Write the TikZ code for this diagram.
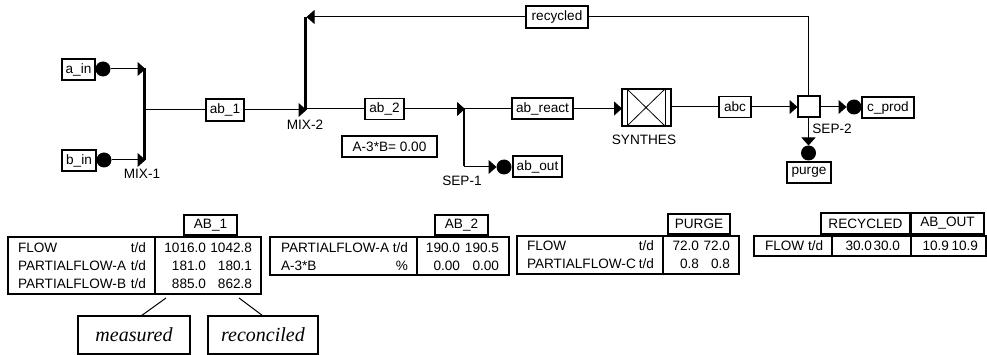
\documentclass[tikz,border=0pt]{standalone}
\usepackage{fontspec}
\setmainfont{Liberation Sans}
\newfontfamily\capserif{Liberation Serif}
\usetikzlibrary{arrows.meta,calc}
\tikzset{
  every node/.style={inner sep=0pt,outer sep=0pt,font=\fontsize{13.6}{15}\selectfont},
  tag/.style={draw,line width=1.1pt,fill=white,align=center},
  cell/.style={draw,line width=1.1pt,fill=white},
  lbl/.style={anchor=center},
  txtl/.style={anchor=base west},
  txtr/.style={anchor=base east},
  dotn/.style={circle,fill=black,minimum size=15pt},
  bar/.style={fill=black,minimum width=3pt},
  flow/.style={line width=1pt,-{Triangle[length=8pt,width=14pt]}},
  plain/.style={line width=1pt},
  note/.style={draw,line width=1.1pt,font=\capserif\itshape\fontsize{20}{22}\selectfont},
}
\begin{document}
\begin{tikzpicture}[x=1pt,y=-1pt]
\useasboundingbox (0,0) rectangle (987,355);
% stream tags
\node[tag,minimum width=33pt,minimum height=21pt] (ain) at (78.5,69.5) {a\_in};
\node[tag,minimum width=34pt,minimum height=21pt] (bin) at (79,160.5) {b\_in};
\node[tag,minimum width=38pt,minimum height=22pt] (ab1) at (225,110) {ab\_1};
\node[tag,minimum width=39pt,minimum height=21pt] (ab2) at (384.5,109) {ab\_2};
\node[tag,minimum width=61pt,minimum height=21pt] (abreact) at (542.5,108.5) {ab\_react};
\node[tag,minimum width=49pt,minimum height=21pt] (about) at (537.5,166.5) {ab\_out};
\node[tag,minimum width=32pt,minimum height=21pt] (abc) at (735,107) {abc};
\node[tag,minimum width=52pt,minimum height=21pt] (cprod) at (888,107.5) {c\_prod};
\node[tag,minimum width=44pt,minimum height=21pt] (purge) at (809,172.5) {purge};
\node[tag,minimum width=62pt,minimum height=22pt] (recycled) at (557,17) {recycled};
\node[tag,minimum width=95pt,minimum height=21pt] (cons) at (389.5,146.5) {A-3*B= 0.00};
% end dots
\node[dotn] (adot) at (103,69) {};
\node[dotn] (bdot) at (104,160) {};
\node[dotn] (abdot) at (504,167) {};
\node[dotn] (cdot) at (854,107) {};
\node[dotn] (pdot) at (808.5,153) {};
% mixers and splitters
\node[bar,minimum height=92pt] (mix1) at (144,114) {};
\node[bar,minimum height=93pt] (mix2) at (305,64) {};
\node[bar,minimum width=2pt,minimum height=58pt] (sep1) at (464,137.5) {};
% units
\node[draw,line width=2pt,minimum width=49pt,minimum height=37pt] (syn) at (646.5,107.5) {};
\node[draw,line width=2pt,fill=white,minimum width=22pt,minimum height=21pt] (sep2) at (808.5,107) {};
\draw[line width=.8pt] (627,89) -- (627,126) (665,89) -- (665,126);
\draw[line width=.8pt] (627,89) -- (665,126) (627,126) -- (665,89);
% unit labels
\node[lbl] (lmix1) at (142,174) {MIX-1};
\node[lbl] (lmix2) at (305,125) {MIX-2};
\node[lbl] (lsep1) at (462,181) {SEP-1};
\node[lbl] (lsyn) at (644,140) {SYNTHES};
\node[lbl] (lsep2) at (832,129) {SEP-2};
% connectors
\draw[flow] (adot) -- (adot -| mix1.east);
\draw[flow] (bdot) -- (bdot -| mix1.east);
\draw[plain] (ab1 -| mix1.east) -- (ab1.west);
\draw[flow] (ab1.east) -- (ab1 -| mix2.east);
\draw[plain] (ab2 -| mix2.east) -- (ab2.west);
\draw[flow] (ab2.east) -- (ab2 -| sep1.east);
\draw[line width=1.5pt] (abreact -| sep1.east) -- (abreact.west);
\draw[flow] (abreact.east) -- (abreact -| syn.west);
\draw[plain] (abc -| syn.east) -- (abc.west);
\draw[flow] (abc.east) -- (abc -| sep2.west);
\draw[flow] (sep2.east) -- (cdot.west);
\draw[flow] (sep2.south) -- (pdot.north);
\draw[flow] (sep1.south |- abdot) -- (abdot.west);
\draw[plain] (sep2.north) |- (recycled.east);
\draw[flow] (recycled.west) -- (recycled -| mix2.east);
% AB_1 table
\node[tag,minimum width=53pt,minimum height=20pt] (tag1) at (210.5,225) {AB\_1};
\node[cell,minimum width=147pt,minimum height=57pt] (t1l) at (81.5,265.5) {};
\node[cell,minimum width=106pt,minimum height=57pt] (t1r) at (208,265.5) {};
\node[txtl] (a1) at (18,252.5) {FLOW};
\node[txtr] (a2) at (146,252.5) {t/d};
\node[txtl] (a3) at (18,270) {PARTIALFLOW-A};
\node[txtr] (a4) at (146,270) {t/d};
\node[txtl] (a5) at (18,288) {PARTIALFLOW-B};
\node[txtr] (a6) at (146,288) {t/d};
\node[txtr] (a7) at (206,252.5) {1016.0};
\node[txtr] (a8) at (252,252.5) {1042.8};
\node[txtr] (a9) at (206,270) {181.0};
\node[txtr] (a10) at (252,270) {180.1};
\node[txtr] (a11) at (206,288) {885.0};
\node[txtr] (a12) at (252,288) {862.8};
% AB_2 table
\node[tag,minimum width=53pt,minimum height=20pt] (tag2) at (461.5,225) {AB\_2};
\node[cell,minimum width=147pt,minimum height=38pt] (t2l) at (343.5,256) {};
\node[cell,minimum width=92pt,minimum height=38pt] (t2r) at (463,256) {};
\node[txtl] (b1) at (281,252) {PARTIALFLOW-A};
\node[txtr] (b2) at (408,252) {t/d};
\node[txtl] (b3) at (281,270) {A-3*B};
\node[txtr] (b4) at (408,270) {\%};
\node[txtr] (b5) at (460,252) {190.0};
\node[txtr] (b6) at (499,252) {190.5};
\node[txtr] (b7) at (460,270) {0.00};
\node[txtr] (b8) at (499,270) {0.00};
% PURGE table
\node[tag,minimum width=62pt,minimum height=20pt] (tag3) at (699,224) {PURGE};
\node[cell,minimum width=146pt,minimum height=38pt] (t3l) at (590,255) {};
\node[cell,minimum width=76pt,minimum height=38pt] (t3r) at (701,255) {};
\node[txtl] (c1) at (527,251) {FLOW};
\node[txtr] (c2) at (654,251) {t/d};
\node[txtl] (c3) at (527,269) {PARTIALFLOW-C};
\node[txtr] (c4) at (654,269) {t/d};
\node[txtr] (c5) at (699,251) {72.0};
\node[txtr] (c6) at (730,251) {72.0};
\node[txtr] (c7) at (699,269) {0.8};
\node[txtr] (c8) at (730,269) {0.8};
% RECYCLED / AB_OUT table
\node[tag,minimum width=89pt,minimum height=21pt] (tag4) at (865.5,223.5) {RECYCLED};
\node[tag,minimum width=73pt,minimum height=21pt] (tag5) at (947.5,223.5) {AB\_OUT};
\node[cell,minimum width=78pt,minimum height=20pt] (t4l) at (793,246) {};
\node[cell,minimum width=79pt,minimum height=20pt] (t4m) at (871.5,246) {};
\node[cell,minimum width=75pt,minimum height=20pt] (t4r) at (948.5,246) {};
\node[txtl] (d1) at (765,251) {FLOW t/d};
\node[txtr] (d2) at (872,251) {30.0};
\node[txtr] (d3) at (900,251) {30.0};
\node[txtr] (d4) at (949,251) {10.9};
\node[txtr] (d5) at (978,251) {10.9};
% notes
\node[note,minimum width=112pt,minimum height=38pt] (meas) at (134,335) {measured};
\node[note,minimum width=110pt,minimum height=38pt] (reco) at (263,335) {reconciled};
\coordinate (mfrom) at (166,298);
\coordinate (rfrom) at (239,298);
\draw[plain] (mfrom) -- ($(meas.north)+(7,0)$);
\draw[plain] (rfrom) -- (reco.north);
\end{tikzpicture}
\end{document}
